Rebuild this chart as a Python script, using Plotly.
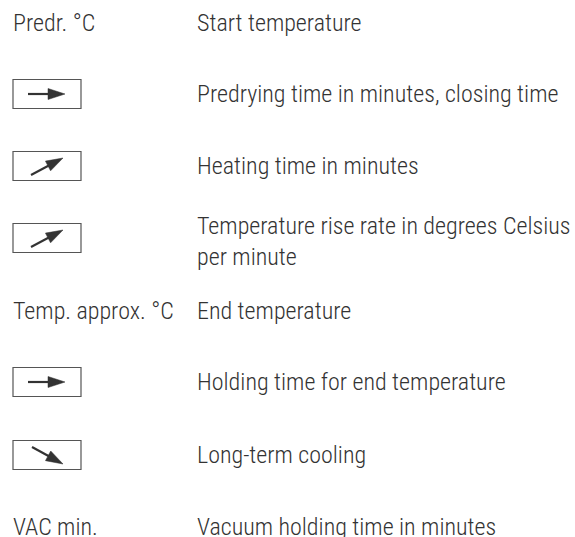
import math
import plotly.graph_objects as go

# ---- content ----
row_labels = ["Predr. °C", None, None, None, "Temp. approx. °C", None, None, "VAC min."]
row_symbols = [None, "right", "up", "up", None, "right", "down", None]
descriptions = [
    "Start temperature",
    "Predrying time in minutes, closing time",
    "Heating time in minutes",
    "Temperature rise rate in degrees Celsius<br>per minute",
    "End temperature",
    "Holding time for end temperature",
    "Long-term cooling",
    "Vacuum holding time in minutes",
]

# ---- layout (pixels) ----
W, H = 575, 537
row_y = [23, 94, 166, 238, 311, 382, 455, 527]
label_x = 11
desc_x = 195
box_x0, box_x1, box_h = 13, 81, 29
FONT = "Roboto Condensed, Liberation Sans Narrow, sans-serif"
TXT = "#333333"
FS = 24
LINE_GAP = 31
FIRST_LINE_OFFSET = -12.5

arrow_geom = {
    "right": ((28, 0), (65, 0)),
    "up": ((31, 9), (63, -8)),
    "down": ((32, -8), (63, 9)),
}


def arrow_shapes(tail, tip, color="#333333"):
    (x0, y0), (x1, y1) = tail, tip
    dx, dy = x1 - x0, y1 - y0
    L = math.hypot(dx, dy)
    ux, uy = dx / L, dy / L
    px, py = -uy, ux
    hl, hw = 17, 5.5
    bx, by = x1 - ux * hl, y1 - uy * hl
    shaft = dict(type="line", x0=x0, y0=y0, x1=bx + ux * 2, y1=by + uy * 2,
                 line=dict(color=color, width=2.2), xref="x", yref="y")
    head = dict(type="path",
                path=f"M{x1},{y1} L{bx + px*hw},{by + py*hw} L{bx - px*hw},{by - py*hw} Z",
                fillcolor=color, line=dict(color=color, width=0.5), xref="x", yref="y")
    return [shaft, head]


font = dict(family=FONT, size=FS, color=TXT, weight=300)
shapes = []
annotations = []
for i, y in enumerate(row_y):
    lab = row_labels[i]
    sym = row_symbols[i]
    if lab:
        annotations.append(dict(x=label_x, y=y, text=lab, xanchor="left", yanchor="middle",
                                showarrow=False, font=font))
    if sym:
        shapes.append(dict(type="rect", x0=box_x0, x1=box_x1, y0=y - box_h / 2, y1=y + box_h / 2,
                           line=dict(color="#555555", width=1.2), xref="x", yref="y"))
        (tx, ty), (hx, hy) = arrow_geom[sym]
        shapes += arrow_shapes((tx, y + ty), (hx, y + hy))
    lines = descriptions[i].split("<br>")
    y0 = y + (FIRST_LINE_OFFSET if len(lines) > 1 else 0)
    for k, line in enumerate(lines):
        annotations.append(dict(x=desc_x, y=y0 + k * LINE_GAP, text=line, xanchor="left",
                                yanchor="middle", showarrow=False, font=font))

fig = go.Figure()
fig.update_layout(
    width=W, height=H,
    margin=dict(l=0, r=0, t=0, b=0),
    paper_bgcolor="white", plot_bgcolor="white",
    xaxis=dict(range=[0, W], visible=False, fixedrange=True),
    yaxis=dict(range=[H, 0], visible=False, fixedrange=True),
    shapes=shapes, annotations=annotations, showlegend=False,
)
fig.write_html("out.html", config={"displayModeBar": False},
               post_script="document.body.style.margin='0';")
